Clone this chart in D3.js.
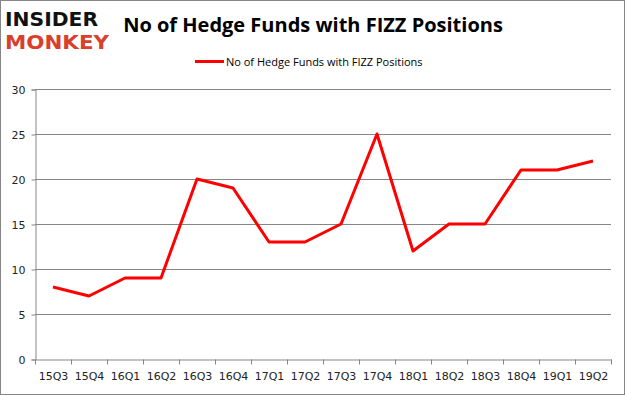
<!DOCTYPE html>
<html>
<head>
<meta charset="utf-8">
<script src="https://cdn.jsdelivr.net/npm/d3@7"></script>
<style>
  body { margin: 0; background: #fff; }
  svg { display: block; }
</style>
</head>
<body>
<svg width="625" height="395"></svg>
<script>
// chart data
var quarters = ['15Q3','15Q4','16Q1','16Q2','16Q3','16Q4','17Q1','17Q2','17Q3','17Q4','18Q1','18Q2','18Q3','18Q4','19Q1','19Q2'];
var funds = [8, 7, 9, 9, 20, 19, 13, 13, 15, 25, 12, 15, 15, 21, 21, 22];
var yTicks = [0, 5, 10, 15, 20, 25, 30];
var seriesName = 'No of Hedge Funds with FIZZ Positions';
var titleText = 'No of Hedge Funds with FIZZ Positions';

var svg = d3.select('svg');
var W = 625, H = 395;
var m = {left: 35, right: 14, top: 89, bottom: 36};

// frame
svg.append('rect')
  .attr('x', 0.5).attr('y', 0.5)
  .attr('width', W - 1).attr('height', H - 1)
  .attr('fill', '#fff').attr('stroke', '#868686');

var x = d3.scaleBand().domain(quarters).range([m.left, W - m.right]);
var y = d3.scaleLinear().domain([0, 30]).range([H - m.bottom, m.top]);

// gridlines
svg.append('g')
  .selectAll('line')
  .data(yTicks.slice(1))
  .enter()
  .append('line')
  .attr('x1', m.left).attr('x2', W - m.right)
  .attr('y1', function(d) { return Math.round(y(d)) + 0.5; })
  .attr('y2', function(d) { return Math.round(y(d)) + 0.5; })
  .attr('stroke', '#868686').attr('stroke-width', 1);

// y axis
var yAxis = svg.append('g')
  .attr('transform', 'translate(' + (m.left + 0.5) + ',0.5)')
  .call(d3.axisLeft(y).tickValues(yTicks).tickSize(4).tickPadding(6));
// x axis
var xAxis = svg.append('g')
  .attr('transform', 'translate(0.5,' + (Math.round(y(0)) + 0.5) + ')')
  .call(d3.axisBottom(x).tickSize(0).tickPadding(13));
// band boundary tick marks
xAxis.selectAll('.bt')
  .data(quarters.concat(['end']))
  .enter()
  .append('line')
  .attr('class', 'bt')
  .attr('x1', function(d, i) { return Math.round(m.left + i * x.bandwidth()); })
  .attr('x2', function(d, i) { return Math.round(m.left + i * x.bandwidth()); })
  .attr('y1', 0).attr('y2', 5)
  .attr('stroke', '#868686');

[yAxis, xAxis].forEach(function(a) {
  a.select('.domain').attr('stroke', '#868686');
  a.selectAll('.tick line').attr('stroke', '#868686');
  a.selectAll('text')
    .attr('fill', '#222')
    .style('font-family', '"DejaVu Sans", sans-serif')
    .style('font-size', '11px');
});
yAxis.selectAll('text').attr('dy', '0.35em');

// the line
var line = d3.line()
  .x(function(d, i) { return x(quarters[i]) + x.bandwidth() / 2; })
  .y(function(d) { return y(d); });

svg.append('path')
  .datum(funds)
  .attr('d', line)
  .attr('fill', 'none')
  .attr('stroke', '#ff0000')
  .attr('stroke-width', 3)
  .attr('stroke-linejoin', 'round');

// title
svg.append('text')
  .attr('x', 313).attr('y', 32)
  .attr('text-anchor', 'middle')
  .style('font-family', '"Open Sans", sans-serif')
  .style('font-weight', 'bold')
  .style('font-size', '20px')
  .attr('fill', '#000')
  .text(titleText);

// legend
svg.append('line')
  .attr('x1', 195).attr('x2', 224)
  .attr('y1', 61.5).attr('y2', 61.5)
  .attr('stroke', '#ff0000').attr('stroke-width', 3);
svg.append('text')
  .attr('x', 226).attr('y', 65.5)
  .style('font-family', '"Open Sans", sans-serif')
  .style('font-size', '11px')
  .attr('fill', '#000')
  .text(seriesName);

// logo
svg.append('text')
  .attr('x', 5).attr('y', 26)
  .style('font-family', '"DejaVu Sans", sans-serif')
  .style('font-weight', 'bold')
  .style('font-size', '19px')
  .attr('textLength', 93)
  .attr('lengthAdjust', 'spacingAndGlyphs')
  .attr('fill', '#111')
  .text('INSIDER');
svg.append('text')
  .attr('x', 5).attr('y', 48.5)
  .style('font-family', '"DejaVu Sans", sans-serif')
  .style('font-weight', 'bold')
  .style('font-size', '19px')
  .attr('textLength', 104)
  .attr('lengthAdjust', 'spacingAndGlyphs')
  .attr('fill', '#d9402b')
  .text('MONKEY');
</script>
</body>
</html>
